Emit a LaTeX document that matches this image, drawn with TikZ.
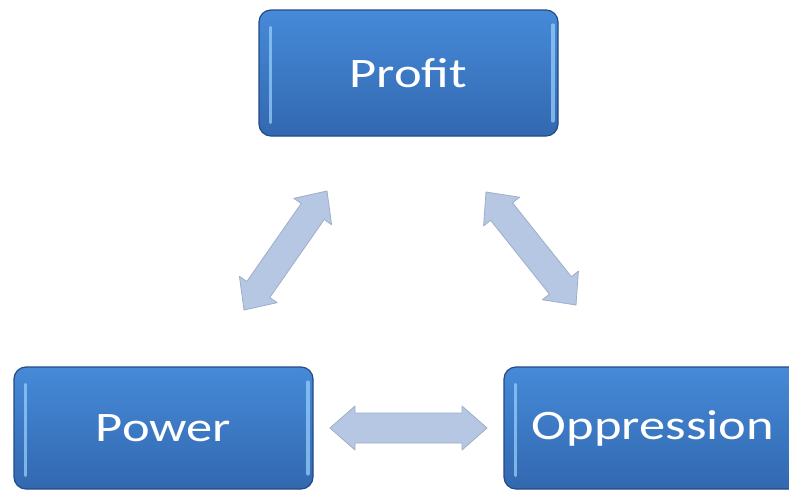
\documentclass[tikz,border=0pt]{standalone}
\usepackage{fontspec}
\newfontfamily\boxfont[FakeStretch=1.25]{Carlito}
\usetikzlibrary{calc}
\definecolor{boxtop}{RGB}{70,138,216}
\definecolor{boxbot}{RGB}{50,104,176}
\definecolor{boxedge}{RGB}{36,74,132}
\definecolor{boxhl}{RGB}{150,205,248}
\definecolor{arrfill}{RGB}{182,199,228}
\definecolor{arredge}{RGB}{158,174,200}
\tikzset{
  box/.style={rounded corners=12pt, top color=boxtop, bottom color=boxbot,
    draw=boxedge, line width=1.2pt, text=white, inner sep=0pt,
    font=\boxfont\fontsize{42}{46}\selectfont},
  hl/.style={boxhl, line width=3pt, line cap=round, opacity=0.75},
  fatarrowstyle/.style={fill=arrfill, draw=arredge, line width=0.8pt, line join=round}
}
\newcommand\fatarrow[4]{%
  \coordinate (fa1) at ($(#1)!25pt!(#2)$);
  \coordinate (fa2) at ($(#2)!25pt!(#1)$);
  \filldraw[fatarrowstyle] (#1)
   -- ($(fa1)!#4!90:(#2)$) -- ($(fa1)!#3!90:(#2)$)
   -- ($(fa2)!#3!-90:(#1)$) -- ($(fa2)!#4!-90:(#1)$)
   -- (#2)
   -- ($(fa2)!#4!90:(#1)$) -- ($(fa2)!#3!90:(#1)$)
   -- ($(fa1)!#3!-90:(#2)$) -- ($(fa1)!#4!-90:(#2)$) -- cycle;}
\begin{document}
\begin{tikzpicture}[x=1pt,y=-1pt]
\useasboundingbox (0,0) rectangle (789,490);
\clip (0,0) rectangle (789,490);
\fill[white] (0,0) rectangle (789,490);
% boxes
\node[box, minimum width=299pt, minimum height=126pt] (profit) at (408.5,73) {Profit};
\node[box, minimum width=299pt, minimum height=122pt] (power) at (163.5,428) {Power};
\node[box, minimum width=298pt, minimum height=122pt] (oppr) at (653,428) {Oppression};
% bevel highlights
\foreach \b in {profit,power,oppr}{
  \draw[hl] ($(\b.north west)+(12,18)$) -- ($(\b.south west)+(12,-14)$);
  \draw[hl, line width=4pt] ($(\b.north east)+(-6,16)$) -- ($(\b.south east)+(-6,-16)$);
}
% arrows
\coordinate (a1s) at (244,310);
\coordinate (a1e) at (327,191);
\coordinate (a2s) at (486,192);
\coordinate (a2e) at (576,305);
\coordinate (a3s) at (330,428);
\coordinate (a3e) at (487,428);
\fatarrow{a1s}{a1e}{14pt}{23pt}
\fatarrow{a2s}{a2e}{14pt}{23pt}
\fatarrow{a3s}{a3e}{15pt}{22pt}
\end{tikzpicture}
\end{document}
